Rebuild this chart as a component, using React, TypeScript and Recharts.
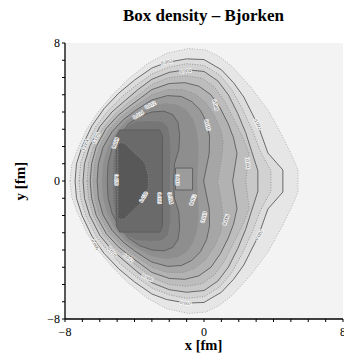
import React from 'react';
import { ScatterChart, Scatter, XAxis, YAxis, CartesianGrid } from 'recharts';

// box density contours, upper half only (mirrored in y), x/y in fm
const axisTicks = [-8, -7, -6, -5, -4, -3, -2, -1, 0, 1, 2, 3, 4, 5, 6, 7, 8];
const labelledTicks = [-8, 0, 8];

const level01 = [[-7.71, 0], [-7.62, 0.9], [-7.3, 1.8], [-6.75, 3.0], [-6.1, 4.0], [-5.3, 4.95], [-4.42, 5.86], [-3.26, 6.8], [-2.16, 7.4], [-0.9, 7.68], [0.1, 7.6], [0.9, 7.2], [1.6, 6.65], [2.69, 5.45], [3.68, 4.12], [4.43, 2.75], [5.0, 1.6], [5.41, 0.64], [5.41, 0]];
const level02 = [[-7.42, 0], [-7.34, 1.0], [-7.02, 2.0], [-6.45, 3.2], [-5.75, 4.2], [-4.9, 5.1], [-4.0, 5.85], [-3.0, 6.55], [-2.16, 6.87], [-1.0, 7.08], [0.0, 7.04], [1.0, 6.45], [1.7, 5.7], [2.29, 4.87], [3.1, 3.25], [3.68, 1.62], [4.54, 0.64], [4.54, 0]];
const level03 = [[-7.19, 0], [-7.1, 1.0], [-6.8, 2.0], [-6.2, 3.2], [-5.5, 4.1], [-4.7, 4.9], [-3.9, 5.55], [-3.0, 6.2], [-2.0, 6.6], [-1.0, 6.8], [0.0, 6.7], [0.9, 6.15], [1.6, 5.3], [2.2, 4.2], [2.8, 2.9], [3.25, 1.7], [3.85, 0.6], [3.85, 0]];
const level04 = [[-6.96, 0], [-6.88, 1.0], [-6.58, 2.0], [-6.0, 3.15], [-5.3, 4.0], [-4.5, 4.7], [-3.8, 5.3], [-3.0, 5.9], [-2.0, 6.3], [-1.0, 6.45], [0.0, 6.35], [0.8, 5.8], [1.4, 5.0], [1.95, 3.9], [2.4, 2.8], [2.75, 1.7], [3.1, 0.6], [3.1, 0]];
const level05 = [[-6.73, 0], [-6.65, 1.0], [-6.37, 2.0], [-5.8, 3.1], [-5.1, 3.9], [-4.35, 4.55], [-3.7, 5.05], [-3.0, 5.6], [-2.0, 6.0], [-1.0, 6.1], [-0.1, 5.95], [0.6, 5.45], [1.2, 4.6], [1.7, 3.6], [2.2, 2.6], [2.6, 1.6], [2.4, 0]];
const level06 = [[-6.55, 0], [-6.47, 1.0], [-6.2, 2.0], [-5.63, 3.05], [-4.95, 3.8], [-4.2, 4.4], [-3.6, 4.85], [-3.0, 5.3], [-2.0, 5.65], [-1.1, 5.7], [-0.3, 5.5], [0.4, 5.0], [0.95, 4.2], [1.4, 3.3], [1.7, 2.5], [1.9, 1.6], [1.65, 0]];
const level07 = [[-6.38, 0], [-6.3, 1.0], [-6.03, 2.0], [-5.48, 2.95], [-4.8, 3.7], [-4.1, 4.25], [-3.5, 4.65], [-3.0, 5.0], [-2.1, 5.3], [-1.2, 5.3], [-0.5, 5.05], [0.1, 4.55], [0.6, 3.8], [0.95, 3.0], [1.1, 2.3], [1.05, 1.6], [0.79, 0]];
const level08 = [[-6.15, 0], [-6.08, 1.0], [-5.82, 1.95], [-5.3, 2.85], [-4.65, 3.55], [-4.0, 4.05], [-3.4, 4.45], [-3.0, 4.7], [-2.1, 4.95], [-1.3, 4.9], [-0.7, 4.6], [-0.2, 4.1], [0.15, 3.4], [0.32, 2.6], [0.3, 1.6], [-0.02, 0]];
const level09 = [[-5.86, 0], [-5.8, 1.0], [-5.55, 1.9], [-5.1, 2.8], [-4.5, 3.45], [-3.85, 3.9], [-3.0, 4.35], [-2.2, 4.5], [-1.5, 4.4], [-1.0, 4.1], [-0.65, 3.6], [-0.42, 2.9], [-0.33, 2.1], [-0.35, 1.0], [-0.4, 0]];
const level10 = [[-5.57, 0], [-5.52, 1.0], [-5.3, 1.85], [-4.9, 2.65], [-4.35, 3.3], [-3.7, 3.75], [-3.0, 4.0], [-2.3, 4.05], [-1.8, 3.85], [-1.5, 3.4], [-1.4, 2.7], [-1.45, 1.8], [-1.7, 1.0], [-1.75, 0]];
const level11 = [[-5.28, 0], [-5.24, 1.2], [-5.05, 2.3], [-4.65, 3.05], [-3.9, 3.45], [-3.0, 3.5], [-2.4, 3.45], [-2.05, 3.1], [-1.92, 2.3], [-1.93, 0]];
const level12 = [[-5.05, 0], [-5.05, 2.6], [-4.85, 2.96], [-2.55, 2.96], [-2.39, 2.6], [-2.39, 0]];
const level13 = [[-4.95, 0], [-4.95, 2.2], [-4.6, 2.2], [-3.4, 1.05], [-3.2, 0.3], [-3.2, 0]];
const squareCorners = [[-1.64, -0.52], [-1.64, 0.75], [-0.66, 0.75], [-0.66, -0.52], [-1.64, -0.52]];

// contour labels: position (fm), text, angle
const labelPoints = [[-2.16, 6.9], [-1.06, 6.38], [3.1, 3.3], [-1.06, -7.07], [0.67, 4.4], [0.2, 3.25], [2.52, 1.04], [-3.78, 3.83], [-3.09, 4.4], [-5.0, 0.06], [-5.11, 2.2], [-6.21, 2.5], [-6.84, 2.1], [-3.49, -0.93], [-2.57, -0.99], [-1.93, -0.99], [-0.66, -1.1], [-6.27, -3.7], [-5.28, -4.1], [-3.26, -5.6], [1.25, -2.26], [3.16, -3.13], [-0.02, -2.1], [-4.36, -4.46], [-1.53, 0.06]];
const labelTexts = ['0.002', '0.004', '0.002', '0.002', '0.008', '0.010', '0.004', '0.014', '0.012', '0.020', '0.018', '0.008', '0.004', '0.020', '0.016', '0.014', '0.012', '0.006', '0.010', '0.006', '0.006', '0.002', '0.010', '0.012', '0.010'];
const labelAngles = [-12, -5, 62, 8, 75, 75, 85, -30, -25, 90, -70, -65, -65, -60, 90, 80, -70, 60, 50, 25, -70, -60, -75, 40, 90];

const levels = [level01, level02, level03, level04, level05, level06, level07, level08, level09, level10, level11, level12, level13];
const levelFills = ['#e6e6e6', '#dcdcdc', '#d2d2d2', '#c8c8c8', '#bdbdbd', '#b2b2b2', '#a6a6a6', '#9a9a9a', '#8e8e8e', '#828282', '#767676', '#6a6a6a', '#585858'];

const serif = '"Liberation Serif", "Times New Roman", serif';

function mirrorContour(upper: number[][]) {
  const lower = upper.slice(1, -1).reverse().map(([x, y]) => [x, -y]);
  return [...upper, ...lower, upper[0]].map(([x, y]) => ({ x, y }));
}

const noDot = () => <g />;

function contourLabel(props: any) {
  const { cx, cy, payload } = props;
  return (
    <text
      x={cx}
      y={cy}
      dy={1.7}
      textAnchor="middle"
      fontSize={5}
      fontFamily={serif}
      fill="#555"
      stroke="#fff"
      strokeWidth={1.3}
      paintOrder="stroke"
      transform={`rotate(${payload.angle} ${cx} ${cy})`}
    >
      {payload.text}
    </text>
  );
}

function tickText(v: number) {
  if (!labelledTicks.includes(v)) return '';
  return v < 0 ? '\u2212' + Math.abs(v) : String(v);
}

const labelData = labelPoints.map(([x, y], i) => ({ x, y, text: labelTexts[i], angle: labelAngles[i] }));

export default function App() {
  return (
    <div style={{ position: 'absolute', left: 0, top: 0, width: 344, height: 353, background: '#fff' }}>
      <ScatterChart width={344} height={353} margin={{ top: 43, right: 1, bottom: 0, left: 0 }}>
        <CartesianGrid horizontal={false} vertical={false} fill="#f3f3f3" />
        <XAxis
          dataKey="x"
          type="number"
          domain={[-8, 8]}
          ticks={axisTicks}
          tickFormatter={tickText}
          interval={0}
          height={34}
          tickSize={3}
          tickMargin={5}
          axisLine={{ stroke: '#000', strokeWidth: 1.3 }}
          tickLine={{ stroke: '#000' }}
          tick={{ fill: '#000', fontSize: 12, fontFamily: serif }}
        />
        <XAxis
          xAxisId="top"
          orientation="top"
          type="number"
          domain={[-8, 8]}
          ticks={axisTicks}
          tickFormatter={() => ''}
          interval={0}
          height={0}
          tickSize={3}
          axisLine={{ stroke: '#000', strokeWidth: 1.3 }}
          tickLine={{ stroke: '#000' }}
        />
        <YAxis
          dataKey="y"
          type="number"
          domain={[-8, 8]}
          ticks={axisTicks}
          tickFormatter={tickText}
          interval={0}
          width={65}
          tickSize={3}
          axisLine={{ stroke: '#000', strokeWidth: 1.3 }}
          tickLine={{ stroke: '#000' }}
          tick={{ fill: '#000', fontSize: 12, fontFamily: serif }}
        />
        <YAxis
          yAxisId="right"
          orientation="right"
          type="number"
          domain={[-8, 8]}
          ticks={axisTicks}
          tickFormatter={() => ''}
          interval={0}
          width={0}
          tickSize={3}
          axisLine={{ stroke: '#000', strokeWidth: 1.3 }}
          tickLine={{ stroke: '#000' }}
        />
        {levels.map((upper, i) => {
          const dotted = i % 2 === 0;
          return (
            <Scatter
              key={'level' + i}
              data={mirrorContour(upper)}
              shape={noDot}
              lineJointType="linear"
              line={{
                fill: levelFills[i],
                stroke: dotted ? (i === 0 ? '#ababab' : '#8c8c8c') : '#5c5c5c',
                strokeWidth: 0.9,
                strokeDasharray: dotted ? '1 1.6' : undefined,
              }}
              isAnimationActive={false}
            />
          );
        })}
        <Scatter
          data={squareCorners.map(([x, y]) => ({ x, y }))}
          shape={noDot}
          lineJointType="linear"
          line={{ fill: '#9c9c9c', stroke: '#5c5c5c', strokeWidth: 0.9 }}
          isAnimationActive={false}
        />
        <Scatter data={labelData} shape={contourLabel} isAnimationActive={false} />
      </ScatterChart>
      <svg width={344} height={353} style={{ position: 'absolute', left: 0, top: 0, pointerEvents: 'none' }}>
        <text x={203.5} y={21} textAnchor="middle" fontFamily={serif} fontWeight="bold" fontSize={17}>
          Box density – Bjorken
        </text>
        <text x={203.5} y={350} textAnchor="middle" fontFamily={serif} fontWeight="bold" fontSize={14.5}>
          x [fm]
        </text>
        <text x={25} y={181} textAnchor="middle" fontFamily={serif} fontWeight="bold" fontSize={15} transform="rotate(-90 25 181)">
          y [fm]
        </text>
      </svg>
    </div>
  );
}
